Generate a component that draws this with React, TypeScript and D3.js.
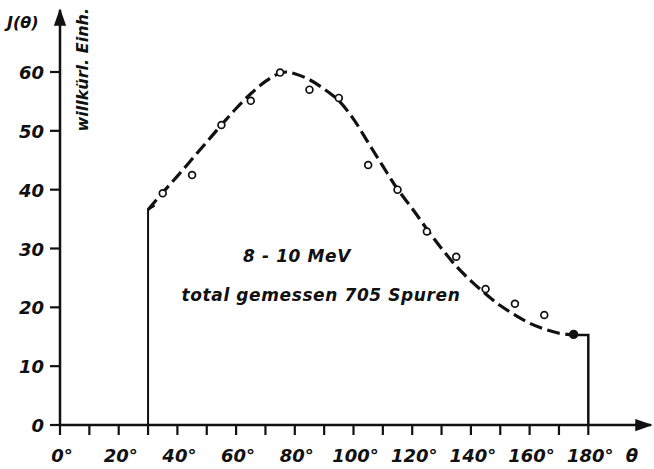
import React from "react";
import * as d3 from "d3";

const W = 654;
const H = 469;

// measured data points (open circles), angle in degrees, J(θ) arbitrary units
const pointAngles = [35, 45, 55, 65, 75, 85, 95, 105, 115, 125, 135, 145, 155, 165, 175];
const pointValues = [39.4, 42.5, 51.0, 55.1, 59.9, 57.0, 55.6, 44.2, 40.0, 32.9, 28.6, 23.1, 20.6, 18.7, 15.4];

// fitted dashed curve
const curveAngles = [30, 35, 40, 45, 50, 55, 60, 65, 70, 74, 77, 80, 85, 90, 95, 100, 105, 110, 115, 120, 125, 130, 135, 140, 145, 150, 155, 160, 165, 170, 175];
const curveValues = [36.6, 39.5, 42.3, 45.2, 48.1, 51.0, 53.8, 56.3, 58.4, 59.6, 60.0, 59.7, 58.7, 57.1, 55.1, 52.0, 48.0, 44.0, 40.1, 36.8, 33.3, 30.0, 27.0, 24.5, 22.3, 20.3, 18.7, 17.3, 16.3, 15.6, 15.3];

// range bounds (solid edges)
const rangeStart = 30;
const rangeEnd = 180;
const endValue = 15.3;

const xTickValues = [0, 10, 20, 30, 40, 50, 60, 70, 80, 90, 100, 110, 120, 130, 140, 150, 160, 170, 180];
const xLabelValues = [0, 20, 40, 60, 80, 100, 120, 140, 160, 180];
const yTickValues = [0, 10, 20, 30, 40, 50, 60];

const FONT = "'DejaVu Sans', sans-serif";

export default function App() {
  const x = d3.scaleLinear().domain([0, 180]).range([60, 588.3]);
  const y = d3.scaleLinear().domain([0, 60]).range([425, 72]);

  const line = d3
    .line<number>()
    .x((_, i) => x(curveAngles[i]))
    .y((d) => y(d))
    .curve(d3.curveCatmullRom.alpha(0.5));

  const curvePath = line(curveValues) || "";

  const x0 = x(0);
  const y0 = y(0);

  const txt = { fontStyle: "italic" as const, fontWeight: "bold" as const, fill: "#111" };

  return (
    <svg
      width={W}
      height={H}
      style={{ position: "absolute", left: 0, top: 0, background: "#fff" }}
      fontFamily={FONT}
    >
      <defs>
        <marker id="arr" viewBox="0 0 10 10" refX="9" refY="5" markerWidth="7" markerHeight="7" orient="auto">
          <path d="M0,1.5 L10,5 L0,8.5 Z" fill="#111" />
        </marker>
      </defs>
      {/* axes */}
      <line x1={x0} y1={y0 + 1} x2={x0} y2={10} stroke="#111" strokeWidth={2.5} markerEnd="url(#arr)" />
      <line x1={x0 - 1} y1={y0} x2={651} y2={y0} stroke="#111" strokeWidth={2.5} markerEnd="url(#arr)" />

      {yTickValues.map((v) => (
        <g key={"yt" + v}>
          <line x1={x0 - 10} x2={x0} y1={y(v)} y2={y(v)} stroke="#111" strokeWidth={2.2} />
          <text x={x0 - 16} y={y(v) + 7} textAnchor="end" fontSize={18} {...txt}>
            {v}
          </text>
        </g>
      ))}

      {xTickValues.map((v) => (
        <line key={"xt" + v} x1={x(v)} x2={x(v)} y1={y0} y2={y0 + 10} stroke="#111" strokeWidth={2.2} />
      ))}
      {xLabelValues.map((v) => (
        <text key={"xl" + v} x={x(v) + 2} y={462} textAnchor="middle" fontSize={18} {...txt}>
          {v + "°"}
        </text>
      ))}
      <text x={632} y={462} textAnchor="middle" fontSize={18} {...txt}>
        θ
      </text>

      {/* axis titles */}
      <text x={7} y={28} fontSize={16} {...txt}>
        J(θ)
      </text>
      <text transform={`translate(88, 8) rotate(-90)`} textAnchor="end" fontSize={16} {...txt}>
        willkürl. Einh.
      </text>

      {/* range edges */}
      <path
        d={`M${x(rangeStart)},${y0} L${x(rangeStart)},${y(curveValues[0])} L${x(curveAngles[1]) - 8},${y(curveValues[0]) - 4}`}
        fill="none"
        stroke="#111"
        strokeWidth={2}
      />
      <path
        d={`M${x(curveAngles[curveAngles.length - 1])},${y(endValue)} L${x(rangeEnd)},${y(endValue)} L${x(rangeEnd)},${y0}`}
        fill="none"
        stroke="#111"
        strokeWidth={2.5}
      />

      {/* dashed fit */}
      <path d={curvePath} fill="none" stroke="#111" strokeWidth={3.2} strokeDasharray="13 5.5" />

      {/* data points */}
      {pointValues.map((v, i) => (
        <circle
          key={"p" + i}
          cx={x(pointAngles[i])}
          cy={y(v)}
          r={i === pointValues.length - 1 ? 3.8 : 3.4}
          fill={i === pointValues.length - 1 ? "#111" : "#fff"}
          stroke="#111"
          strokeWidth={1.7}
        />
      ))}

      {/* annotations */}
      <text x={297} y={262} textAnchor="middle" fontSize={17} letterSpacing={0.6} {...txt}>
        8 - 10 MeV
      </text>
      <text x={321} y={301} textAnchor="middle" fontSize={17} letterSpacing={0.6} {...txt}>
        total gemessen 705 Spuren
      </text>
    </svg>
  );
}
